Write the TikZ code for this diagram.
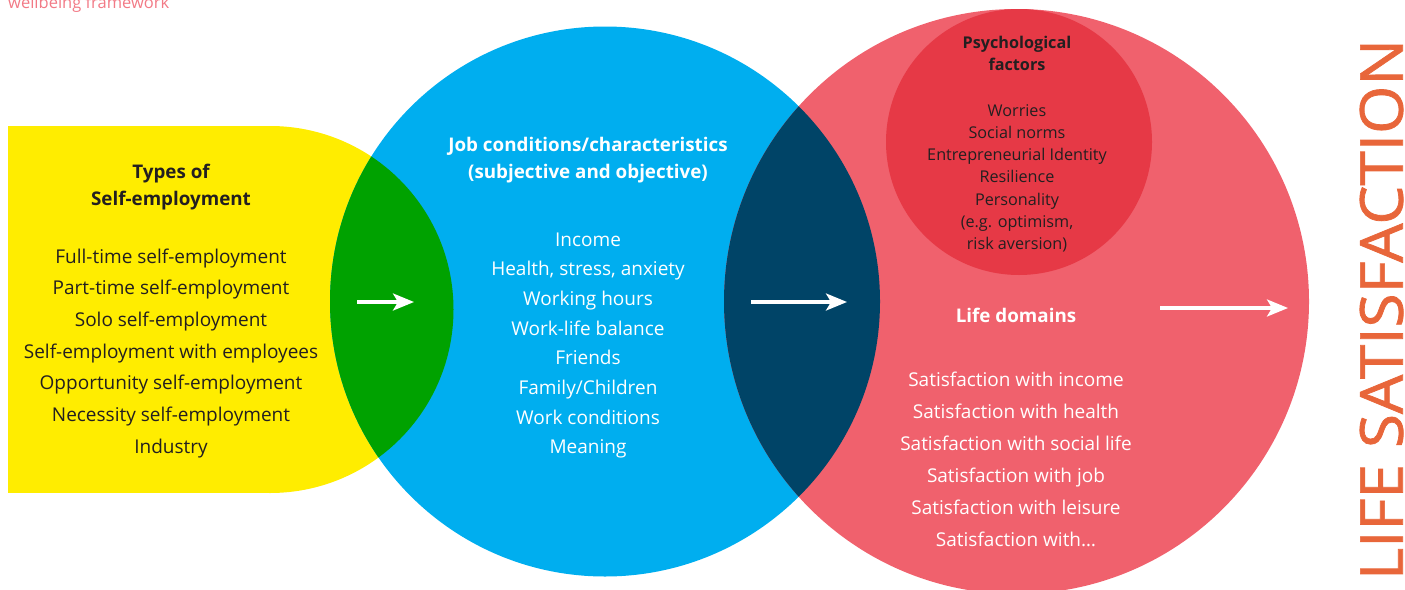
\documentclass[tikz,border=0pt]{standalone}
\usepackage{fontspec}
\setmainfont{Open Sans}
\newfontfamily\titlefont[FakeBold=1.2]{Open Sans}
\usetikzlibrary{arrows.meta}

\definecolor{selfyellow}{HTML}{FFED00}
\definecolor{overlapgreen}{HTML}{00A200}
\definecolor{jobblue}{HTML}{00AEEF}
\definecolor{overlapnavy}{HTML}{004467}
\definecolor{lifepink}{HTML}{F0616D}
\definecolor{psychred}{HTML}{E63946}
\definecolor{titleorange}{HTML}{E8663A}
\definecolor{captionpink}{HTML}{F27A86}
\definecolor{darktext}{HTML}{231F20}

\begin{document}
\begin{tikzpicture}[x=1pt,y=-1pt,
  txt/.style={inner sep=0pt, anchor=base},
  listdark/.style={txt, text=darktext, font=\fontsize{19}{22}\selectfont},
  headdark/.style={txt, text=darktext, font=\fontsize{18.8}{22}\selectfont\bfseries},
  listlight/.style={txt, text=white, font=\fontsize{19}{22}\selectfont},
  headlight/.style={txt, text=white, font=\fontsize{18.8}{22}\selectfont\bfseries},
  psychitem/.style={txt, text=darktext, font=\fontsize{16.2}{20}\selectfont},
  psychhead/.style={txt, text=darktext, font=\fontsize{16.2}{20}\selectfont\bfseries},
  flow/.style={white, line width=3.2pt, -{Stealth[length=21pt, width=17pt, inset=5pt]}}
]
\useasboundingbox (0,0) rectangle (1405,589);
\clip (0,0) rectangle (1405,589);

% caption fragment at the top edge
\node[txt, text=captionpink, font=\fontsize{16.5}{20}\selectfont, anchor=base west]
  (caption) at (8,9) {wellbeing framework};

% types of self-employment: a block with a rounded right end
\fill[selfyellow] (8,126) rectangle (270,493);
\fill[selfyellow] (270,309.5) circle[radius=183.5];

% job conditions circle
\fill[jobblue] (605,301.5) circle[radius=275];
\begin{scope}
  \clip (605,301.5) circle[radius=275];
  \fill[overlapgreen] (8,126) rectangle (270,493);
  \fill[overlapgreen] (270,309.5) circle[radius=183.5];
\end{scope}

% life domains circle
\fill[lifepink] (1016.5,301.5) circle[radius=292.5];
\begin{scope}
  \clip (605,301.5) circle[radius=275];
  \fill[overlapnavy] (1016.5,301.5) circle[radius=292.5];
\end{scope}

% psychological factors circle
\fill[psychred] (1019,142) circle[radius=133];

% left block text
\node[headdark] (self-h1) at (171,178) {Types of};
\node[headdark] (self-h2) at (171,205) {Self-employment};
\foreach \t [count=\i] in {Full-time self-employment, Part-time self-employment,
    Solo self-employment, Self-employment with employees,
    Opportunity self-employment, Necessity self-employment, Industry}
  \node[listdark] (self-\i) at (171,{263+31.7*(\i-1)}) {\t};

% middle circle text
\node[headlight] (job-h1) at (588,151) {Job conditions/characteristics};
\node[headlight] (job-h2) at (588,178) {(subjective and objective)};
\foreach \t [count=\i] in {Income, {Health, stress, anxiety}, Working hours,
    Work-life balance, Friends, Family/Children, Work conditions, Meaning}
  \node[listlight] (job-\i) at (588,{246+29.7*(\i-1)}) {\t};

% psychological factors text
\node[psychhead] (psy-h1) at (1017,48) {Psychological};
\node[psychhead] (psy-h2) at (1017,70) {factors};
\foreach \t [count=\i] in {Worries, Social norms, Entrepreneurial Identity,
    Resilience, Personality, {(e.g. optimism,}, risk aversion)}
  \node[psychitem] (psy-\i) at (1017,{116+22.3*(\i-1)}) {\t};

% life domains text
\node[headlight] (life-h) at (1016,322) {Life domains};
\foreach \t [count=\i] in {Satisfaction with income, Satisfaction with health,
    Satisfaction with social life, Satisfaction with job,
    Satisfaction with leisure, Satisfaction with…}
  \node[listlight] (life-\i) at (1016,{386+32*(\i-1)}) {\t};

% flow arrows
\coordinate (a1-from) at (357,302);
\coordinate (a1-to) at (414,302);
\coordinate (a2-from) at (751,302);
\coordinate (a2-to) at (847,302);
\coordinate (a3-from) at (1160,308);
\coordinate (a3-to) at (1288,308);
\draw[flow] (a1-from) -- (a1-to);
\draw[flow] (a2-from) -- (a2-to);
\draw[flow] (a3-from) -- (a3-to);

% vertical title
\node[inner sep=0pt, rotate=90, text=titleorange] (title) at (1381.5,309.5)
  {\resizebox{541pt}{43pt}{\titlefont\fontsize{60}{60}\selectfont LIFE SATISFACTION}};
\end{tikzpicture}
\end{document}
